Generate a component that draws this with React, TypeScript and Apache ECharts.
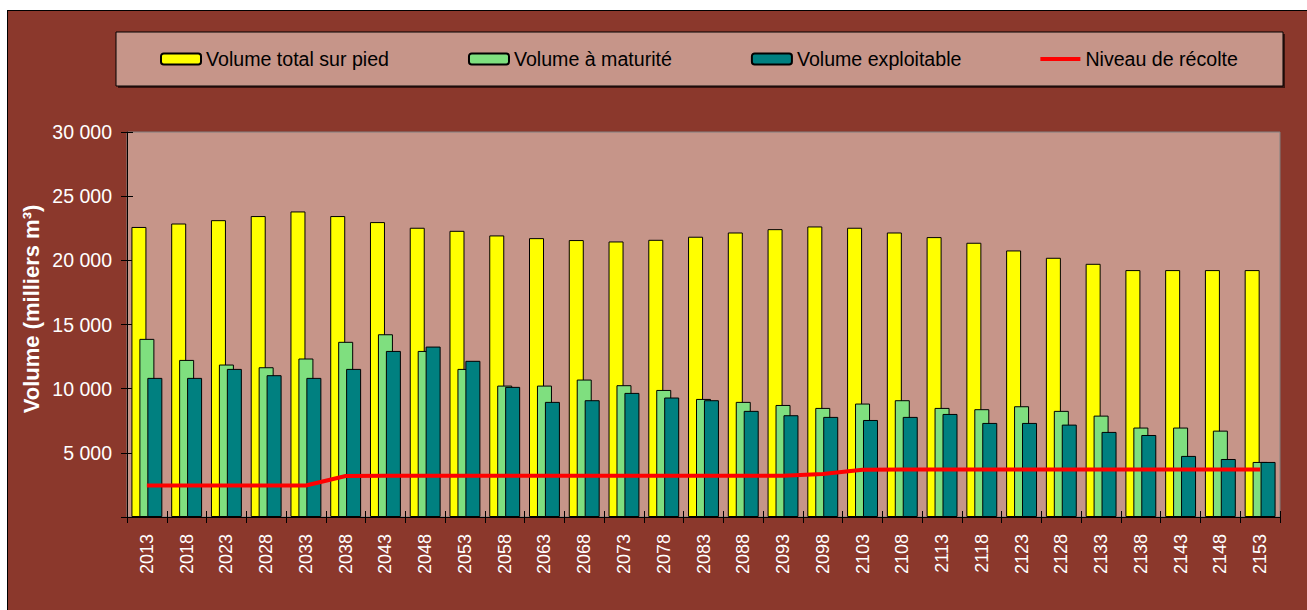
import React, { useEffect, useRef } from "react";
import * as echarts from "echarts";

const years = ["2013","2018","2023","2028","2033","2038","2043","2048","2053","2058","2063","2068","2073","2078","2083","2088","2093","2098","2103","2108","2113","2118","2123","2128","2133","2138","2143","2148","2153"];
const volumeTotal = [22600,22870,23130,23450,23810,23450,22980,22540,22300,21940,21730,21580,21470,21600,21840,22170,22430,22640,22540,22170,21810,21370,20770,20200,19730,19240,19240,19240,19240];
const volumeMaturite = [13880,12240,11880,11670,12350,13650,14240,12940,11540,10240,10240,10710,10270,9900,9200,8970,8730,8500,8840,9100,8500,8400,8630,8270,7900,6970,6970,6730,4290];
const volumeExploitable = [10840,10840,11540,11050,10840,11540,12940,13280,12170,10140,8970,9100,9670,9310,9100,8270,7930,7800,7560,7800,8030,7330,7330,7200,6630,6390,4760,4520,4290];
const niveauRecolte = [2450,2450,2450,2450,2450,3200,3220,3220,3220,3220,3220,3220,3220,3220,3220,3220,3220,3350,3690,3700,3700,3700,3700,3700,3700,3700,3700,3700,3700];
const seriesNames = ["Volume total sur pied","Volume à maturité","Volume exploitable","Niveau de récolte"];
const yTicks = { min: 0, max: 30000, interval: 5000 };

const FONT = '"Liberation Sans", Arial, sans-serif';
const FRAME = "#8B382C";
const PLOT = "#C69589";

function fmt(v: number): string {
  if (v === 0) return "";
  return String(v).replace(/\B(?=(\d{3})+(?!\d))/g, " ");
}

export default function App() {
  const ref = useRef<HTMLDivElement>(null);
  useEffect(() => {
    document.body.style.margin = "0";
    if (!ref.current) return;
    const chart = echarts.init(ref.current, undefined, { renderer: "svg" });
    const barStyle = (color: string) => ({ color, borderColor: "#000", borderWidth: 1 });
    const grid = { left: 127, top: 132, right: 27, bottom: 93 };
    chart.setOption({
      animation: false,
      textStyle: { fontFamily: FONT },
      grid: [
        { ...grid, show: true, backgroundColor: PLOT, borderColor: "#808080", borderWidth: 1 },
        { ...grid, show: false },
      ],
      legend: {
        data: [
          seriesNames[0],
          seriesNames[1],
          seriesNames[2],
          { name: seriesNames[3], icon: "path://M0,0 H40 V4 H0 Z", itemStyle: { color: "#FF0000", borderWidth: 0 } },
        ],
        left: 155,
        top: 44,
        itemWidth: 40,
        itemHeight: 11,
        itemGap: 79,
        textStyle: { color: "#000", fontSize: 19.6, fontFamily: FONT },
      },
      graphic: [
        { type: "rect", shape: { x: 118, y: 34, width: 1167, height: 54 }, style: { fill: "#3a1510" }, silent: true },
        { type: "rect", shape: { x: 116, y: 32, width: 1167, height: 54 }, style: { fill: PLOT, stroke: "#000", lineWidth: 1 }, silent: true },
        {
          type: "text",
          x: 31,
          y: 309,
          rotation: Math.PI / 2,
          style: { text: "Volume (milliers m³)", fill: "#fff", font: `bold 22px ${FONT}`, textAlign: "center", textVerticalAlign: "middle" },
          silent: true,
        },
      ],
      xAxis: [
        {
          type: "category",
          gridIndex: 0,
          data: years,
          boundaryGap: true,
          axisLine: { lineStyle: { color: "#000", width: 1 } },
          axisTick: { show: true, length: 6, lineStyle: { color: "#000" } },
          axisLabel: { rotate: 90, color: "#fff", fontSize: 18, margin: 17, fontFamily: FONT, interval: 0 },
          splitLine: { show: false },
        },
        {
          type: "category",
          gridIndex: 1,
          data: years,
          boundaryGap: true,
          axisLine: { show: false },
          axisTick: { show: true, inside: true, length: 6, lineStyle: { color: "#000" } },
          axisLabel: { show: false },
          splitLine: { show: false },
        },
      ],
      yAxis: [
        {
          type: "value",
          gridIndex: 0,
          ...yTicks,
          axisLine: { show: true, lineStyle: { color: "#000", width: 1 } },
          axisTick: { show: true, length: 6, lineStyle: { color: "#000" } },
          axisLabel: { color: "#fff", fontSize: 19.5, margin: 15, fontFamily: FONT, formatter: fmt },
          splitLine: { show: false },
        },
        {
          type: "value",
          gridIndex: 1,
          ...yTicks,
          axisLine: { show: false },
          axisTick: { show: true, inside: true, length: 6, lineStyle: { color: "#000" } },
          axisLabel: { show: false },
          splitLine: { show: false },
        },
      ],
      series: [
        { name: seriesNames[0], type: "bar", data: volumeTotal, barWidth: 15, barGap: "-47%", itemStyle: barStyle("#FFFF00") },
        { name: seriesNames[1], type: "bar", data: volumeMaturite, barWidth: 15, barGap: "-47%", itemStyle: barStyle("#7FDF7F") },
        { name: seriesNames[2], type: "bar", data: volumeExploitable, barWidth: 15, barGap: "-47%", itemStyle: barStyle("#008080") },
        {
          name: seriesNames[3],
          type: "line",
          data: niveauRecolte,
          symbol: "none",
          z: 5,
          lineStyle: { color: "#FF0000", width: 4 },
          itemStyle: { color: "#FF0000" },
        },
      ],
    });
    return () => chart.dispose();
  }, []);
  return (
    <div style={{ position: "relative", width: 1307, height: 610, overflow: "hidden", background: "#fff" }}>
      <div style={{ position: "absolute", left: 7, top: 10, width: 1330, height: 640, background: FRAME, border: "1px solid #000" }} />
      <div ref={ref} style={{ position: "absolute", left: 0, top: 0, width: 1307, height: 610 }} />
    </div>
  );
}
